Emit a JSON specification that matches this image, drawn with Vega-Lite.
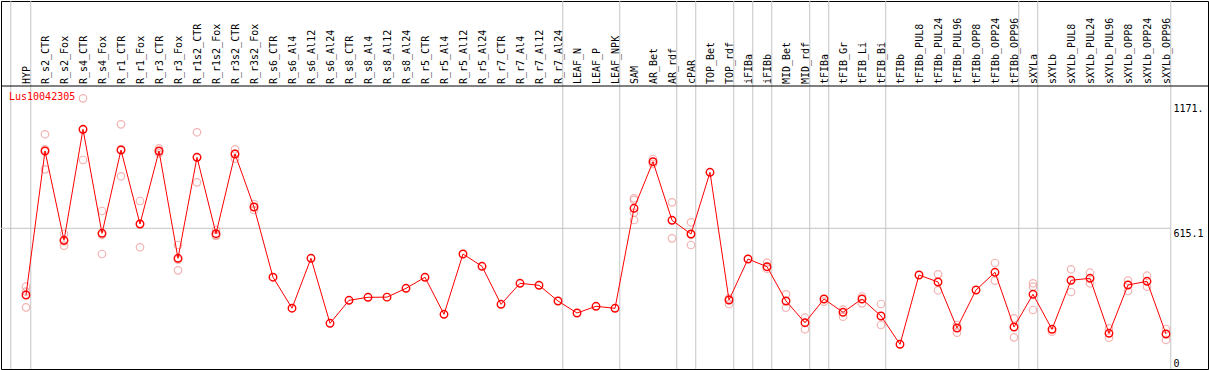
{
  "$schema": "https://vega.github.io/schema/vega-lite/v6.json",
  "width": 1207,
  "height": 368,
  "padding": {"left": 1, "top": 1, "right": 1, "bottom": 1},
  "autosize": {"type": "none"},
  "background": "white",
  "config": {
    "view": {"stroke": "black", "strokeWidth": 1},
    "font": "DejaVu Sans Mono",
    "axis": {"labelOverlap": false, "labelBound": false, "labelFlush": false, "ticks": false, "grid": false, "title": null, "labelFont": "DejaVu Sans Mono", "labelFontSize": 10, "labelColor": "black"}
  },
  "datasets": {
    "means": [
      {"i": 1, "sample": "HYP", "mean": 318.4, "gene": "Lus10042305"},
      {"i": 2, "sample": "R_s2_CTR", "mean": 958.9, "gene": "Lus10042305"},
      {"i": 3, "sample": "R_s2_Fox", "mean": 561.7, "gene": "Lus10042305"},
      {"i": 4, "sample": "R_s4_CTR", "mean": 1055.4, "gene": "Lus10042305"},
      {"i": 5, "sample": "R_s4_Fox", "mean": 592.9, "gene": "Lus10042305"},
      {"i": 6, "sample": "R_r1_CTR", "mean": 963.4, "gene": "Lus10042305"},
      {"i": 7, "sample": "R_r1_Fox", "mean": 634.2, "gene": "Lus10042305"},
      {"i": 8, "sample": "R_r3_CTR", "mean": 958.9, "gene": "Lus10042305"},
      {"i": 9, "sample": "R_r3_Fox", "mean": 481.7, "gene": "Lus10042305"},
      {"i": 10, "sample": "R_r1s2_CTR", "mean": 930.9, "gene": "Lus10042305"},
      {"i": 11, "sample": "R_r1s2_Fox", "mean": 591.1, "gene": "Lus10042305"},
      {"i": 12, "sample": "R_r3s2_CTR", "mean": 945.6, "gene": "Lus10042305"},
      {"i": 13, "sample": "R_r3s2_Fox", "mean": 709.8, "gene": "Lus10042305"},
      {"i": 14, "sample": "R_s6_CTR", "mean": 397.6, "gene": "Lus10042305"},
      {"i": 15, "sample": "R_s6_Al4", "mean": 259.7, "gene": "Lus10042305"},
      {"i": 16, "sample": "R_s6_Al12", "mean": 481.7, "gene": "Lus10042305"},
      {"i": 17, "sample": "R_s6_Al24", "mean": 192.6, "gene": "Lus10042305"},
      {"i": 18, "sample": "R_s8_CTR", "mean": 294.9, "gene": "Lus10042305"},
      {"i": 19, "sample": "R_s8_Al4", "mean": 308.2, "gene": "Lus10042305"},
      {"i": 20, "sample": "R_s8_Al12", "mean": 309.0, "gene": "Lus10042305"},
      {"i": 21, "sample": "R_s8_Al24", "mean": 348.2, "gene": "Lus10042305"},
      {"i": 22, "sample": "R_r5_CTR", "mean": 397.2, "gene": "Lus10042305"},
      {"i": 23, "sample": "R_r5_Al4", "mean": 232.6, "gene": "Lus10042305"},
      {"i": 24, "sample": "R_r5_Al12", "mean": 500.8, "gene": "Lus10042305"},
      {"i": 25, "sample": "R_r5_Al24", "mean": 446.1, "gene": "Lus10042305"},
      {"i": 26, "sample": "R_r7_CTR", "mean": 277.1, "gene": "Lus10042305"},
      {"i": 27, "sample": "R_r7_Al4", "mean": 370.5, "gene": "Lus10042305"},
      {"i": 28, "sample": "R_r7_Al12", "mean": 361.6, "gene": "Lus10042305"},
      {"i": 29, "sample": "R_r7_Al24", "mean": 291.8, "gene": "Lus10042305"},
      {"i": 30, "sample": "LEAF_N", "mean": 238.4, "gene": "Lus10042305"},
      {"i": 31, "sample": "LEAF_P", "mean": 268.2, "gene": "Lus10042305"},
      {"i": 32, "sample": "LEAF_NPK", "mean": 259.3, "gene": "Lus10042305"},
      {"i": 33, "sample": "SAM", "mean": 704.1, "gene": "Lus10042305"},
      {"i": 34, "sample": "AR_Bet", "mean": 911.3, "gene": "Lus10042305"},
      {"i": 35, "sample": "AR_rdf", "mean": 650.7, "gene": "Lus10042305"},
      {"i": 36, "sample": "cPAR", "mean": 589.8, "gene": "Lus10042305"},
      {"i": 37, "sample": "TOP_Bet", "mean": 864.2, "gene": "Lus10042305"},
      {"i": 38, "sample": "TOP_rdf", "mean": 296.2, "gene": "Lus10042305"},
      {"i": 39, "sample": "iFIBa", "mean": 478.6, "gene": "Lus10042305"},
      {"i": 40, "sample": "iFIBb", "mean": 444.3, "gene": "Lus10042305"},
      {"i": 41, "sample": "MID_Bet", "mean": 291.8, "gene": "Lus10042305"},
      {"i": 42, "sample": "MID_rdf", "mean": 195.2, "gene": "Lus10042305"},
      {"i": 43, "sample": "tFIBa", "mean": 300.7, "gene": "Lus10042305"},
      {"i": 44, "sample": "tFIB_Gr", "mean": 241.5, "gene": "Lus10042305"},
      {"i": 45, "sample": "tFIB_Li", "mean": 300.7, "gene": "Lus10042305"},
      {"i": 46, "sample": "tFIB_Bi", "mean": 225.1, "gene": "Lus10042305"},
      {"i": 47, "sample": "tFIBb", "mean": 99.2, "gene": "Lus10042305"},
      {"i": 48, "sample": "tFIBb_PUL8", "mean": 407.4, "gene": "Lus10042305"},
      {"i": 49, "sample": "tFIBb_PUL24", "mean": 376.3, "gene": "Lus10042305"},
      {"i": 50, "sample": "tFIBb_PUL96", "mean": 171.7, "gene": "Lus10042305"},
      {"i": 51, "sample": "tFIBb_OPP8", "mean": 340.7, "gene": "Lus10042305"},
      {"i": 52, "sample": "tFIBb_OPP24", "mean": 419.4, "gene": "Lus10042305"},
      {"i": 53, "sample": "tFIBb_OPP96", "mean": 176.1, "gene": "Lus10042305"},
      {"i": 54, "sample": "sXYLa", "mean": 321.6, "gene": "Lus10042305"},
      {"i": 55, "sample": "sXYLb", "mean": 165.9, "gene": "Lus10042305"},
      {"i": 56, "sample": "sXYLb_PUL8", "mean": 383.8, "gene": "Lus10042305"},
      {"i": 57, "sample": "sXYLb_PUL24", "mean": 392.7, "gene": "Lus10042305"},
      {"i": 58, "sample": "sXYLb_PUL96", "mean": 148.1, "gene": "Lus10042305"},
      {"i": 59, "sample": "sXYLb_OPP8", "mean": 362.9, "gene": "Lus10042305"},
      {"i": 60, "sample": "sXYLb_OPP24", "mean": 379.4, "gene": "Lus10042305"},
      {"i": 61, "sample": "sXYLb_OPP96", "mean": 145.0, "gene": "Lus10042305"}
    ],
    "reps": [
      {"i": 1, "value": 355.4}, {"i": 1, "value": 333.1}, {"i": 1, "value": 263.7},
      {"i": 2, "value": 1033.2}, {"i": 2, "value": 877.5}, {"i": 2, "value": 966},
      {"i": 3, "value": 589.8}, {"i": 3, "value": 537.7}, {"i": 3, "value": 557},
      {"i": 4, "value": 1193.3}, {"i": 4, "value": 918.9}, {"i": 4, "value": 1054},
      {"i": 5, "value": 692}, {"i": 5, "value": 500.8}, {"i": 5, "value": 586},
      {"i": 6, "value": 1077.6}, {"i": 6, "value": 846.4}, {"i": 6, "value": 966},
      {"i": 7, "value": 736.5}, {"i": 7, "value": 530.6}, {"i": 7, "value": 635},
      {"i": 8, "value": 970.9}, {"i": 8, "value": 948.7}, {"i": 8, "value": 957},
      {"i": 9, "value": 540.8}, {"i": 9, "value": 428.3}, {"i": 9, "value": 476},
      {"i": 10, "value": 1042.1}, {"i": 10, "value": 819.7}, {"i": 10, "value": 931},
      {"i": 11, "value": 607.5}, {"i": 11, "value": 580.9}, {"i": 11, "value": 585},
      {"i": 12, "value": 966.5}, {"i": 12, "value": 924.7}, {"i": 12, "value": 946},
      {"i": 13, "value": 723.2}, {"i": 13, "value": 696.5}, {"i": 13, "value": 710},
      {"i": 33, "value": 748.5}, {"i": 33, "value": 741}, {"i": 33, "value": 684.5}, {"i": 33, "value": 652},
      {"i": 34, "value": 923.3}, {"i": 34, "value": 901.1}, {"i": 34, "value": 910},
      {"i": 35, "value": 730.7}, {"i": 35, "value": 570.6}, {"i": 35, "value": 651},
      {"i": 36, "value": 641.8}, {"i": 36, "value": 540.8}, {"i": 36, "value": 587},
      {"i": 38, "value": 303.8}, {"i": 38, "value": 278.4}, {"i": 38, "value": 296},
      {"i": 40, "value": 462.1}, {"i": 40, "value": 435.4}, {"i": 40, "value": 444},
      {"i": 41, "value": 321.6}, {"i": 41, "value": 262.0},
      {"i": 42, "value": 217.5}, {"i": 42, "value": 165.9},
      {"i": 43, "value": 288.6},
      {"i": 44, "value": 253.1}, {"i": 44, "value": 221.9},
      {"i": 45, "value": 311.8}, {"i": 45, "value": 281.5},
      {"i": 46, "value": 278.4}, {"i": 46, "value": 185.0},
      {"i": 49, "value": 410.5}, {"i": 49, "value": 339.4},
      {"i": 50, "value": 185}, {"i": 50, "value": 150.8},
      {"i": 52, "value": 460.8}, {"i": 52, "value": 382.1},
      {"i": 53, "value": 214.8}, {"i": 53, "value": 130.3},
      {"i": 54, "value": 370.5}, {"i": 54, "value": 355.4}, {"i": 54, "value": 251.7},
      {"i": 55, "value": 155.2},
      {"i": 56, "value": 432.8}, {"i": 56, "value": 331.8},
      {"i": 57, "value": 417.6}, {"i": 57, "value": 370.5},
      {"i": 58, "value": 170.3}, {"i": 58, "value": 128.5},
      {"i": 59, "value": 382.1}, {"i": 59, "value": 336.2},
      {"i": 60, "value": 404.3}, {"i": 60, "value": 355.4},
      {"i": 61, "value": 167.2}, {"i": 61, "value": 118.3}
    ],
    "bounds": [
      {"pos": 0.2}, {"pos": 1.25}, {"pos": 29.25}, {"pos": 32.25}, {"pos": 35.25},
      {"pos": 36.25}, {"pos": 38.25}, {"pos": 39.25}, {"pos": 40.25}, {"pos": 42.25},
      {"pos": 43.25}, {"pos": 46.25}, {"pos": 53.25}, {"pos": 54.25}, {"pos": 61.25}
    ],
    "gridlines": [{"value": 615.1}]
  },
  "layer": [
    {
      "data": {"name": "bounds"},
      "mark": {"type": "rule", "color": "#c4c4c4", "strokeWidth": 1},
      "encoding": {
        "x": {
          "field": "pos", "type": "quantitative",
          "scale": {"domain": [-0.3158, 63.2105], "nice": false, "zero": false},
          "axis": {
            "orient": "top", "offset": -84.5, "zindex": 1, "tickCount": 200,
            "values": [1,2,3,4,5,6,7,8,9,10,11,12,13,14,15,16,17,18,19,20,21,22,23,24,25,26,27,28,29,30,31,32,33,34,35,36,37,38,39,40,41,42,43,44,45,46,47,48,49,50,51,52,53,54,55,56,57,58,59,60,61],
            "labelExpr": "['HYP','R_s2_CTR','R_s2_Fox','R_s4_CTR','R_s4_Fox','R_r1_CTR','R_r1_Fox','R_r3_CTR','R_r3_Fox','R_r1s2_CTR','R_r1s2_Fox','R_r3s2_CTR','R_r3s2_Fox','R_s6_CTR','R_s6_Al4','R_s6_Al12','R_s6_Al24','R_s8_CTR','R_s8_Al4','R_s8_Al12','R_s8_Al24','R_r5_CTR','R_r5_Al4','R_r5_Al12','R_r5_Al24','R_r7_CTR','R_r7_Al4','R_r7_Al12','R_r7_Al24','LEAF_N','LEAF_P','LEAF_NPK','SAM','AR_Bet','AR_rdf','cPAR','TOP_Bet','TOP_rdf','iFIBa','iFIBb','MID_Bet','MID_rdf','tFIBa','tFIB_Gr','tFIB_Li','tFIB_Bi','tFIBb','tFIBb_PUL8','tFIBb_PUL24','tFIBb_PUL96','tFIBb_OPP8','tFIBb_OPP24','tFIBb_OPP96','sXYLa','sXYLb','sXYLb_PUL8','sXYLb_PUL24','sXYLb_PUL96','sXYLb_OPP8','sXYLb_OPP24','sXYLb_OPP96'][datum.value-1]",
            "labelAngle": 270, "labelAlign": "left", "labelBaseline": "middle", "labelPadding": 2,
            "ticks": false, "tickSize": 0, "grid": false, "title": null,
            "domainColor": "black", "domainWidth": 1,
            "labelFont": "DejaVu Sans Mono", "labelFontSize": 10, "labelColor": "black",
            "labelOverlap": false, "labelBound": false, "labelFlush": false, "labelSeparation": 0
          }
        }
      }
    },
    {
      "data": {"name": "gridlines"},
      "mark": {"type": "rule", "color": "#c4c4c4", "strokeWidth": 1},
      "encoding": {
        "x": {"datum": -0.3158, "type": "quantitative"},
        "x2": {"datum": 61.25},
        "y": {
          "field": "value", "type": "quantitative",
          "scale": {"domain": [-10.67, 1626.1], "nice": false, "zero": false},
          "axis": {
            "orient": "right", "offset": -37, "values": [0, 615.1, 1171], "tickCount": 20,
            "labelExpr": "datum.value == 1171 ? '1171.' : (datum.value == 0 ? '0' : '615.1')",
            "ticks": false, "tickSize": 0, "domain": false, "grid": false, "title": null,
            "labelAlign": "left",
            "labelBaseline": {"condition": {"test": "datum.value == 0", "value": "bottom"}, "value": "top"},
            "labelOffset": {"condition": {"test": "datum.value == 0", "value": 2}, "value": 0},
            "labelPadding": 2, "labelFlush": false, "labelOverlap": false,
            "labelFont": "DejaVu Sans Mono", "labelFontSize": 10, "labelColor": "black"
          }
        }
      }
    },
    {
      "data": {"name": "reps"},
      "mark": {"type": "point", "shape": "circle", "filled": false, "size": 56, "strokeWidth": 1.2, "color": "#f09494"},
      "encoding": {
        "x": {"field": "i", "type": "quantitative"},
        "y": {"field": "value", "type": "quantitative"}
      }
    },
    {
      "data": {"name": "means"},
      "mark": {"type": "line", "strokeWidth": 1},
      "encoding": {
        "x": {"field": "i", "type": "quantitative"},
        "y": {"field": "mean", "type": "quantitative"},
        "color": {
          "field": "gene", "type": "nominal",
          "scale": {"domain": ["Lus10042305"], "range": ["#ff0000"]},
          "legend": {
            "orient": "none", "legendX": -2, "legendY": 91, "title": null,
            "symbolOpacity": 0, "symbolSize": 0, "symbolStrokeWidth": 0,
            "labelOffset": 0, "padding": 0,
            "labelColor": "#ff0000", "labelFont": "DejaVu Sans Mono", "labelFontSize": 10
          }
        }
      }
    },
    {
      "data": {"name": "means"},
      "mark": {"type": "point", "shape": "circle", "filled": false, "size": 56, "strokeWidth": 1.4, "opacity": 1},
      "encoding": {
        "x": {"field": "i", "type": "quantitative"},
        "y": {"field": "mean", "type": "quantitative"},
        "color": {"field": "gene", "type": "nominal"}
      }
    }
  ]
}
